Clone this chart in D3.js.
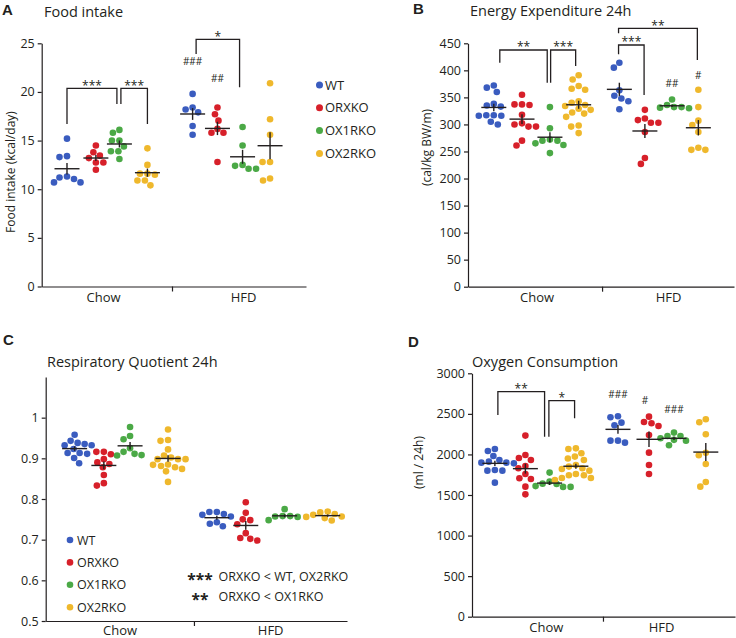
<!DOCTYPE html>
<html><head><meta charset="utf-8">
<script src="https://cdn.jsdelivr.net/npm/d3@7"></script>
<style>
body{margin:0;background:#fff}
svg{display:block}
text{font-family:'Open Sans',sans-serif;fill:#231f20}
</style>
</head><body>
<svg id="c" width="736" height="638"></svg>
<script>
// ---------- categories ----------
const groups = ["WT", "ORXKO", "OX1RKO", "OX2RKO"];
const diets = ["Chow", "HFD"];
const colors = ["#3a5cbf", "#d7202a", "#4ba946", "#efb82c"];

// ---------- A: Food intake (kcal/day) ----------
const foodChow = [
  [15.2, 13.3, 13.4, 11.2, 11.05, 11.3, 10.7, 10.7],
  [14.5, 13.8, 13.45, 13.2, 12.75, 12.75, 12.0],
  [16.1, 15.8, 15.0, 15.0, 14.4, 13.9, 13.9, 13.1],
  [14.2, 12.5, 11.6, 11.6, 11.5, 10.9, 10.9, 10.4]
];
const foodHFD = [
  [19.8, 18.2, 18.4, 17.9, 16.5, 15.6],
  [18.4, 17.7, 17.05, 16.2, 15.8, 15.8, 12.8],
  [16.4, 14.5, 12.4, 12.1, 12.1, 12.5],
  [20.9, 17.2, 15.6, 12.8, 12.8, 11.1, 10.9]
];
const foodTicks = [0, 5, 10, 15, 20, 25];

// ---------- B: Energy expenditure 24h (cal/kg BW/m) ----------
const eeChow = [
  [372, 368, 360, 338, 335, 333, 317, 316, 316, 317, 305, 300],
  [355, 337, 336, 337, 318, 302, 300, 296, 296, 270, 261],
  [332, 293, 272, 270, 270, 265, 262, 247],
  [391, 383, 371, 366, 364, 343, 340, 336, 334, 329, 327, 322, 320, 314, 298, 296, 284]
];
const eeHFD = [
  [414, 405, 363, 353, 348, 343, 328],
  [327, 311, 308, 303, 303, 286, 238, 227],
  [346, 332, 330, 331, 336, 332],
  [364, 332, 307, 299, 286, 253, 257, 253]
];
const eeTicks = [0, 50, 100, 150, 200, 250, 300, 350, 400, 450];

// ---------- C: Respiratory quotient 24h ----------
const rqChow = [
  [0.943, 0.932, 0.932, 0.935, 0.938, 0.958, 0.911, 0.913, 0.913, 0.923, 0.901, 0.888],
  [0.916, 0.916, 0.910, 0.898, 0.890, 0.886, 0.878, 0.859, 0.839, 0.833],
  [0.977, 0.955, 0.947, 0.916, 0.925, 0.907, 0.908, 0.911],
  [0.971, 0.943, 0.945, 0.922, 0.907, 0.902, 0.898, 0.898, 0.898, 0.881, 0.878, 0.884, 0.885, 0.874, 0.868, 0.842]
];
const rqHFD = [
  [0.763, 0.761, 0.768, 0.768, 0.739, 0.733, 0.743, 0.757],
  [0.792, 0.766, 0.748, 0.750, 0.738, 0.702, 0.698, 0.704, 0.716],
  [0.758, 0.748, 0.756, 0.775, 0.757, 0.758],
  [0.763, 0.753, 0.757, 0.747, 0.756, 0.761, 0.767, 0.769]
];
const rqTicks = [0.5, 0.6, 0.7, 0.8, 0.9, 1];

// ---------- D: Oxygen consumption (ml / 24h) ----------
const o2Chow = [
  [2067, 2043, 1981, 1932, 1911, 1899, 1899, 1890, 1808, 1800, 1800, 1652],
  [2232, 1993, 1956, 1932, 1858, 1829, 1759, 1706, 1697, 1603, 1508],
  [1776, 1665, 1640, 1636, 1610, 1600, 1600],
  [2067, 2075, 2014, 1973, 1950, 1932, 1870, 1850, 1829, 1821, 1800, 1759, 1743, 1743, 1710, 1710, 1685]
];
const o2HFD = [
  [2458, 2470, 2359, 2392, 2145, 2170, 2170],
  [2466, 2351, 2384, 2400, 2240, 2022, 1870, 1759],
  [2269, 2228, 2228, 2200, 2180, 2170, 2113],
  [2396, 2433, 2248, 2020, 1990, 1882, 1660, 1603]
];
const o2Ticks = [0, 500, 1000, 1500, 2000, 2500, 3000];

// ---------- drawing ----------
const svg = d3.select("#c");
const INK = "#231f20";
const R = 3.3;

function swarm(vals, y, cx) {
  const pts = vals.map(v => ({v, py: y(v)})).sort((a, b) => a.py - b.py);
  const placed = [];
  const D = 2 * R + 0.5;
  for (const p of pts) {
    let off = 0;
    for (let k = 0; k < 400; k++) {
      const o = (k % 2 === 0 ? 1 : -1) * Math.ceil(k / 2) * 0.5;
      if (placed.every(q => (q.ox - o) ** 2 + (q.py - p.py) ** 2 >= D * D)) { off = o; break; }
    }
    p.ox = off; placed.push(p);
  }
  pts.forEach(p => p.px = cx + p.ox);
  return pts;
}

function drawPanel(p) {
  const g = svg.append("g");
  const x = d3.scaleLinear().domain([0, 10]).range([p.x0, p.x1]);
  const y = d3.scaleLinear().domain(p.domain).range([p.yBot, p.yTop]);
  const gx = (di, gi) => x(p.slots[di][gi]);

  const ya = g.append("g").attr("transform", `translate(${p.x0},0)`)
    .call(d3.axisLeft(y).tickValues(p.ticks).tickFormat(p.fmt).tickSize(4).tickSizeOuter(0).tickPadding(3));
  const xa = g.append("g").attr("transform", `translate(0,${p.yBot})`)
    .call(d3.axisBottom(x).tickValues([p.sep]).tickFormat("").tickSize(5).tickSizeOuter(0));
  const xl = g.append("g").attr("transform", `translate(0,${p.yBot})`)
    .call(d3.axisBottom(x).tickValues(p.labelSlots).tickFormat((d, i) => diets[i]).tickSize(0).tickPadding(p.labPad || 6.5));
  xl.select(".domain").remove();
  [ya, xa, xl].forEach(a => {
    a.attr("font-family", null).attr("font-size", null);
    a.selectAll("path,line").attr("stroke", INK).attr("stroke-width", 1.2);
    a.selectAll("text").attr("fill", INK).style("font-size", "12.5px");
  });
  xl.selectAll("text").style("font-size", "13px");

  // points
  p.data.forEach((dietArr, di) => {
    dietArr.forEach((vals, gi) => {
      const cx = gx(di, gi);
      const pts = swarm(vals, y, cx);
      g.append("g").selectAll("circle").data(pts).join("circle")
        .attr("cx", d => d.px).attr("cy", d => d.py).attr("r", R)
        .attr("fill", colors[gi]);
    });
  });
  // mean ± SEM
  p.data.forEach((dietArr, di) => {
    dietArr.forEach((vals, gi) => {
      const cx = gx(di, gi);
      const m = d3.mean(vals), se = d3.deviation(vals) / Math.sqrt(vals.length);
      g.append("line").attr("x1", cx - 12.5).attr("x2", cx + 12.5).attr("y1", y(m)).attr("y2", y(m))
        .attr("stroke", INK).attr("stroke-width", 1.4);
      g.append("line").attr("x1", cx).attr("x2", cx).attr("y1", y(m - se)).attr("y2", y(m + se))
        .attr("stroke", INK).attr("stroke-width", 1.4);
    });
  });
  // brackets
  (p.brackets || []).forEach(b => {
    const xa_ = gx(b.a[0], b.a[1]) + (b.na || 0), xb_ = gx(b.b[0], b.b[1]) + (b.nb || 0);
    g.append("path").attr("d", `M${xa_},${y(b.la)}V${y(b.top)}H${xb_}V${y(b.lb)}`)
      .attr("fill", "none").attr("stroke", INK).attr("stroke-width", 1.3);
    g.append("text").attr("x", (xa_ + xb_) / 2).attr("y", y(b.top) + 1.2)
      .attr("text-anchor", "middle").style("font-size", "12px").text(b.label);
  });
  // hashes
  (p.hashes || []).forEach(h => {
    g.append("text").attr("x", gx(h.at[0], h.at[1]) + (h.n || 0)).attr("y", y(h.v) + 3.6)
      .attr("text-anchor", "middle").style("font-size", "10px").text(h.t);
  });
  // title, letter, y label
  g.append("text").attr("x", p.title[0]).attr("y", p.title[1]).style("font-size", "14.5px").text(p.title[2]);
  g.append("text").attr("x", p.letter[0]).attr("y", p.letter[1])
    .style("font-family", "'Liberation Sans',Arial,sans-serif").style("font-weight", "bold").style("font-size", "15px").text(p.letter[2]);
  if (p.ylab) {
    g.append("text").attr("transform", `translate(${p.ylab[0]},${p.ylab[1]}) rotate(-90)`)
      .attr("text-anchor", "middle").style("font-size", p.ylab[3]).text(p.ylab[2]);
  }
  // legend
  if (p.legend) {
    const L = p.legend;
    groups.forEach((name, i) => {
      g.append("circle").attr("cx", L.x).attr("cy", L.y + i * L.dy).attr("r", L.r).attr("fill", colors[i]);
      g.append("text").attr("x", L.x + L.gap).attr("y", L.y + i * L.dy).attr("dy", "0.36em")
        .style("font-size", L.fs).text(name);
    });
  }
  return {x, y};
}

drawPanel({
  x0: 41.7, x1: 306, yTop: 43.3, yBot: 286.5, domain: [0, 25], ticks: foodTicks, fmt: d3.format("d"),
  slots: [[0.957, 2.05, 2.94, 4.0], [5.71, 6.65, 7.60, 8.64]], sep: 4.93, labelSlots: [2.32, 7.62],
  data: [foodChow, foodHFD],
  brackets: [
    {a: [0, 0], b: [0, 2], top: 20.37, la: 16.7, lb: 18.76, nb: -2.5, label: "***"},
    {a: [0, 2], b: [0, 3], top: 20.37, la: 18.76, lb: 16.7, na: 1.5, label: "***"},
    {a: [1, 0], b: [1, 2], top: 25.41, la: 23.9, lb: 20.48, na: 3.5, nb: -3, label: "*"}
  ],
  hashes: [{at: [1, 0], v: 23.1, t: "###"}, {at: [1, 1], v: 21.4, t: "##"}],
  title: [44, 17, "Food intake"], letter: [2, 14.5, "A"],
  ylab: [14.5, 172, "Food intake (kcal/day)", "12px"],
  legend: {x: 319.5, y: 85, dy: 22.8, r: 3.5, gap: 5.5, fs: "13px"}
});

drawPanel({
  x0: 468, x1: 734, yTop: 43.3, yBot: 286.7, domain: [0, 450], ticks: eeTicks, fmt: d3.format("d"),
  slots: [[0.97, 2.03, 3.08, 4.16], [5.69, 6.65, 7.67, 8.66]], sep: 5.04, labelSlots: [2.58, 7.52],
  data: [eeChow, eeHFD],
  brackets: [
    {a: [0, 0], b: [0, 2], top: 437.6, la: 414, lb: 377, na: 6, nb: -2.7, label: "**"},
    {a: [0, 2], b: [0, 3], top: 437.6, la: 377, lb: 408, na: 0.7, nb: -3, label: "***"},
    {a: [1, 0], b: [1, 1], top: 446.9, la: 429.7, lb: 354.4, na: -0.8, nb: -0.8, label: "***"},
    {a: [1, 0], b: [1, 3], top: 477.7, la: 468.5, lb: 419.1, na: -0.8, nb: -1, label: "**"}
  ],
  hashes: [{at: [1, 2], v: 376, t: "##"}, {at: [1, 3], v: 391.4, t: "#"}],
  title: [470, 16, "Energy Expenditure 24h"], letter: [413, 13.5, "B"],
  ylab: [430.5, 147.5, "(cal/kg BW/m)", "12px"]
});

drawPanel({
  x0: 45.7, x1: 347, yTop: 377, yBot: 621, domain: [0.5, 1.1], ticks: rqTicks,
  fmt: d => d === 1 ? "1" : d3.format(".1f")(d),
  slots: [[0.96, 1.93, 2.80, 4.06], [5.68, 6.64, 7.93, 9.36]], sep: 4.92, labelSlots: [2.45, 7.45], labPad: 4.5,
  data: [rqChow, rqHFD],
  title: [47, 366.5, "Respiratory Quotient 24h"], letter: [3, 345, "C"],
  legend: {x: 70, y: 540, dy: 22.4, r: 3.3, gap: 7, fs: "12.5px"}
});
// C significance note
[["***", "ORXKO < WT, OX2RKO", 576.7], ["**", "ORXKO < OX1RKO", 596.7]].forEach(([s, t, yy]) => {
  svg.append("text").attr("x", 200).attr("y", yy + 8.6).attr("text-anchor", "middle")
    .style("font-size", "15.5px").style("font-weight", "bold").text(s);
  svg.append("text").attr("x", 218.5).attr("y", yy).attr("dy", "0.36em").style("font-size", "12.5px").text(t);
});

drawPanel({
  x0: 472, x1: 735, yTop: 373.3, yBot: 616.7, domain: [0, 3000], ticks: o2Ticks, fmt: d3.format("d"),
  slots: [[0.87, 2.03, 2.95, 3.95], [5.55, 6.73, 7.68, 8.89]], sep: 4.98, labelSlots: [2.81, 7.19],
  data: [o2Chow, o2HFD],
  brackets: [
    {a: [0, 0], b: [0, 2], top: 2773, la: 2486, lb: 2219, na: 3, nb: -5, label: "**"},
    {a: [0, 2], b: [0, 3], top: 2662, la: 2219, lb: 2445, na: -0.7, nb: -1.3, label: "*"}
  ],
  hashes: [{at: [1, 0], v: 2745, t: "###"}, {at: [1, 1], v: 2662, t: "#", n: -4}, {at: [1, 2], v: 2556, t: "###"}],
  title: [472, 366.5, "Oxygen Consumption"], letter: [408, 347, "D"],
  ylab: [422.5, 462.5, "(ml / 24h)", "12px"]
});
</script>
</body></html>
